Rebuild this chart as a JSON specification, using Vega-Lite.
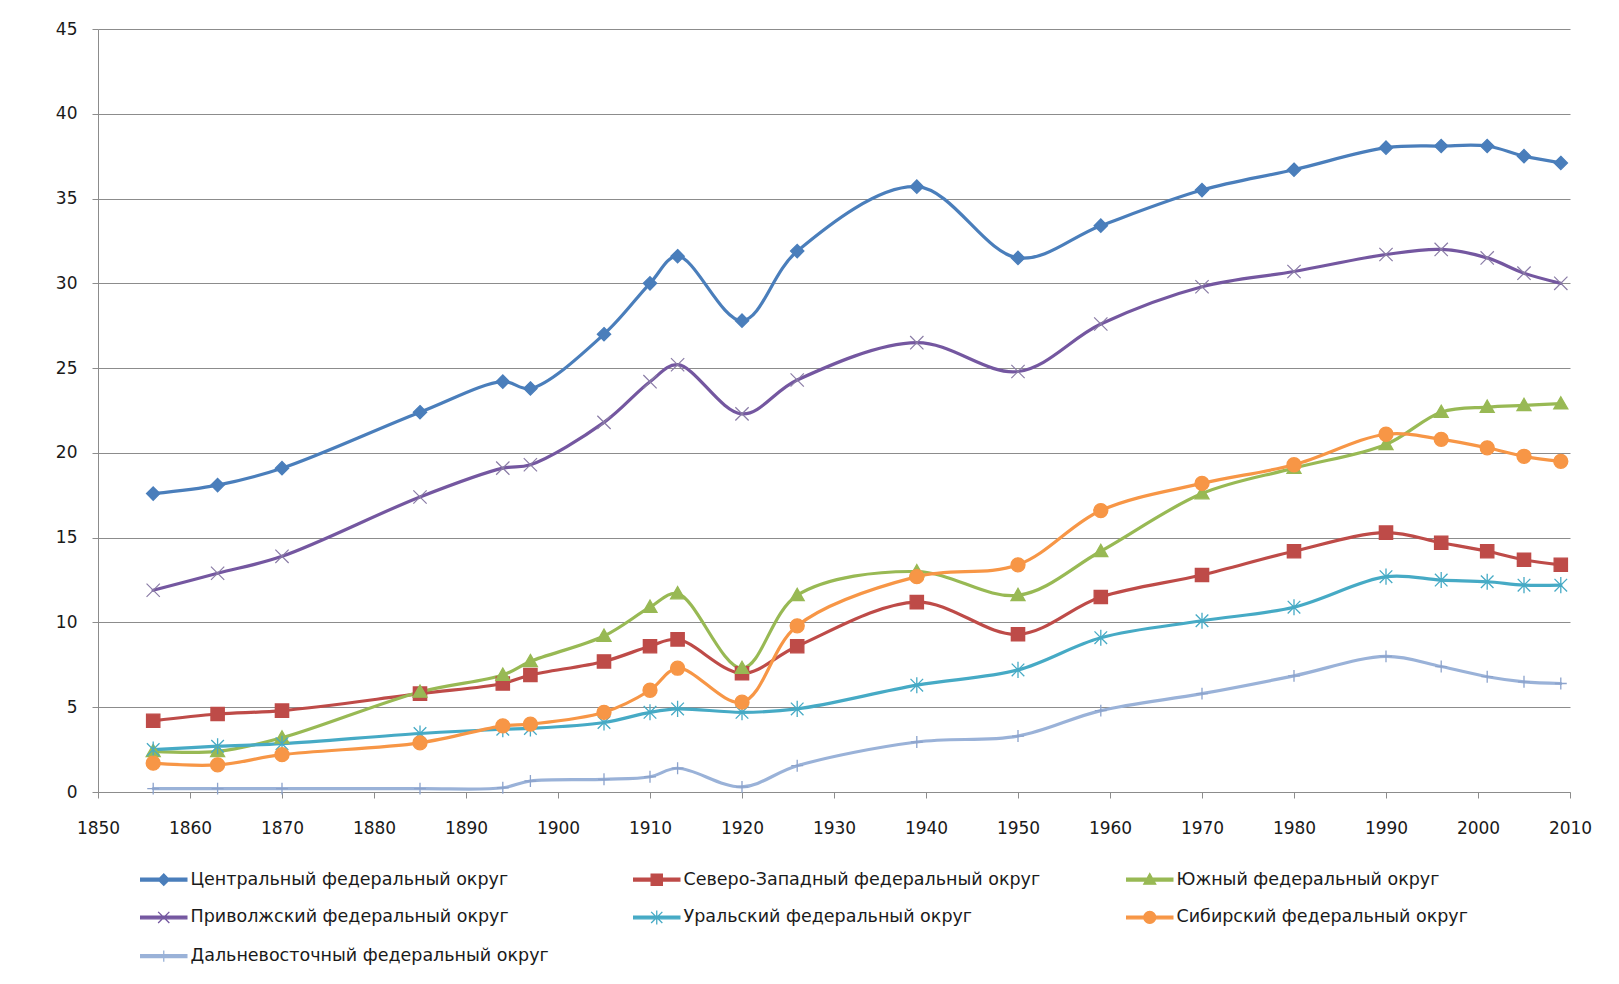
{
  "$schema": "https://vega.github.io/schema/vega-lite/v6.json",
  "width": 1472,
  "height": 763,
  "autosize": {"type": "none"},
  "padding": {"left": 98, "top": 29, "right": 49, "bottom": 192},
  "background": "white",
  "config": {
    "view": {"stroke": null},
    "font": "DejaVu Sans",
    "axis": {
      "domainColor": "#8c8c8c",
      "tickColor": "#8c8c8c",
      "gridColor": "#8c8c8c",
      "gridOpacity": 1,
      "labelFont": "DejaVu Sans",
      "labelFontSize": 17,
      "labelColor": "#1a1a1a",
      "tickSize": 6,
      "title": null
    }
  },
  "data": {
    "values": [
      {"year": 1856, "district": "Центральный федеральный округ", "value": 17.6},
      {"year": 1863, "district": "Центральный федеральный округ", "value": 18.1},
      {"year": 1870, "district": "Центральный федеральный округ", "value": 19.1},
      {"year": 1885, "district": "Центральный федеральный округ", "value": 22.4},
      {"year": 1894, "district": "Центральный федеральный округ", "value": 24.2},
      {"year": 1897, "district": "Центральный федеральный округ", "value": 23.8},
      {"year": 1905, "district": "Центральный федеральный округ", "value": 27.0},
      {"year": 1910, "district": "Центральный федеральный округ", "value": 30.0},
      {"year": 1913, "district": "Центральный федеральный округ", "value": 31.6},
      {"year": 1920, "district": "Центральный федеральный округ", "value": 27.8},
      {"year": 1926, "district": "Центральный федеральный округ", "value": 31.9},
      {"year": 1939, "district": "Центральный федеральный округ", "value": 35.7},
      {"year": 1950, "district": "Центральный федеральный округ", "value": 31.5},
      {"year": 1959, "district": "Центральный федеральный округ", "value": 33.4},
      {"year": 1970, "district": "Центральный федеральный округ", "value": 35.5},
      {"year": 1980, "district": "Центральный федеральный округ", "value": 36.7},
      {"year": 1990, "district": "Центральный федеральный округ", "value": 38.0},
      {"year": 1996, "district": "Центральный федеральный округ", "value": 38.1},
      {"year": 2001, "district": "Центральный федеральный округ", "value": 38.1},
      {"year": 2005, "district": "Центральный федеральный округ", "value": 37.5},
      {"year": 2009, "district": "Центральный федеральный округ", "value": 37.1},

      {"year": 1856, "district": "Северо-Западный федеральный округ", "value": 4.2},
      {"year": 1863, "district": "Северо-Западный федеральный округ", "value": 4.6},
      {"year": 1870, "district": "Северо-Западный федеральный округ", "value": 4.8},
      {"year": 1885, "district": "Северо-Западный федеральный округ", "value": 5.8},
      {"year": 1894, "district": "Северо-Западный федеральный округ", "value": 6.4},
      {"year": 1897, "district": "Северо-Западный федеральный округ", "value": 6.9},
      {"year": 1905, "district": "Северо-Западный федеральный округ", "value": 7.7},
      {"year": 1910, "district": "Северо-Западный федеральный округ", "value": 8.6},
      {"year": 1913, "district": "Северо-Западный федеральный округ", "value": 9.0},
      {"year": 1920, "district": "Северо-Западный федеральный округ", "value": 7.0},
      {"year": 1926, "district": "Северо-Западный федеральный округ", "value": 8.6},
      {"year": 1939, "district": "Северо-Западный федеральный округ", "value": 11.2},
      {"year": 1950, "district": "Северо-Западный федеральный округ", "value": 9.3},
      {"year": 1959, "district": "Северо-Западный федеральный округ", "value": 11.5},
      {"year": 1970, "district": "Северо-Западный федеральный округ", "value": 12.8},
      {"year": 1980, "district": "Северо-Западный федеральный округ", "value": 14.2},
      {"year": 1990, "district": "Северо-Западный федеральный округ", "value": 15.3},
      {"year": 1996, "district": "Северо-Западный федеральный округ", "value": 14.7},
      {"year": 2001, "district": "Северо-Западный федеральный округ", "value": 14.2},
      {"year": 2005, "district": "Северо-Западный федеральный округ", "value": 13.7},
      {"year": 2009, "district": "Северо-Западный федеральный округ", "value": 13.4},

      {"year": 1856, "district": "Южный федеральный округ", "value": 2.4},
      {"year": 1863, "district": "Южный федеральный округ", "value": 2.4},
      {"year": 1870, "district": "Южный федеральный округ", "value": 3.2},
      {"year": 1885, "district": "Южный федеральный округ", "value": 5.9},
      {"year": 1894, "district": "Южный федеральный округ", "value": 6.9},
      {"year": 1897, "district": "Южный федеральный округ", "value": 7.7},
      {"year": 1905, "district": "Южный федеральный округ", "value": 9.2},
      {"year": 1910, "district": "Южный федеральный округ", "value": 10.9},
      {"year": 1913, "district": "Южный федеральный округ", "value": 11.7},
      {"year": 1920, "district": "Южный федеральный округ", "value": 7.3},
      {"year": 1926, "district": "Южный федеральный округ", "value": 11.6},
      {"year": 1939, "district": "Южный федеральный округ", "value": 13.0},
      {"year": 1950, "district": "Южный федеральный округ", "value": 11.6},
      {"year": 1959, "district": "Южный федеральный округ", "value": 14.2},
      {"year": 1970, "district": "Южный федеральный округ", "value": 17.6},
      {"year": 1980, "district": "Южный федеральный округ", "value": 19.1},
      {"year": 1990, "district": "Южный федеральный округ", "value": 20.5},
      {"year": 1996, "district": "Южный федеральный округ", "value": 22.4},
      {"year": 2001, "district": "Южный федеральный округ", "value": 22.7},
      {"year": 2005, "district": "Южный федеральный округ", "value": 22.8},
      {"year": 2009, "district": "Южный федеральный округ", "value": 22.9},

      {"year": 1856, "district": "Приволжский федеральный округ", "value": 11.9},
      {"year": 1863, "district": "Приволжский федеральный округ", "value": 12.9},
      {"year": 1870, "district": "Приволжский федеральный округ", "value": 13.9},
      {"year": 1885, "district": "Приволжский федеральный округ", "value": 17.4},
      {"year": 1894, "district": "Приволжский федеральный округ", "value": 19.1},
      {"year": 1897, "district": "Приволжский федеральный округ", "value": 19.3},
      {"year": 1905, "district": "Приволжский федеральный округ", "value": 21.8},
      {"year": 1910, "district": "Приволжский федеральный округ", "value": 24.2},
      {"year": 1913, "district": "Приволжский федеральный округ", "value": 25.2},
      {"year": 1920, "district": "Приволжский федеральный округ", "value": 22.3},
      {"year": 1926, "district": "Приволжский федеральный округ", "value": 24.3},
      {"year": 1939, "district": "Приволжский федеральный округ", "value": 26.5},
      {"year": 1950, "district": "Приволжский федеральный округ", "value": 24.8},
      {"year": 1959, "district": "Приволжский федеральный округ", "value": 27.6},
      {"year": 1970, "district": "Приволжский федеральный округ", "value": 29.8},
      {"year": 1980, "district": "Приволжский федеральный округ", "value": 30.7},
      {"year": 1990, "district": "Приволжский федеральный округ", "value": 31.7},
      {"year": 1996, "district": "Приволжский федеральный округ", "value": 32.0},
      {"year": 2001, "district": "Приволжский федеральный округ", "value": 31.5},
      {"year": 2005, "district": "Приволжский федеральный округ", "value": 30.6},
      {"year": 2009, "district": "Приволжский федеральный округ", "value": 30.0},

      {"year": 1856, "district": "Уральский федеральный округ", "value": 2.5},
      {"year": 1863, "district": "Уральский федеральный округ", "value": 2.7},
      {"year": 1870, "district": "Уральский федеральный округ", "value": 2.85},
      {"year": 1885, "district": "Уральский федеральный округ", "value": 3.45},
      {"year": 1894, "district": "Уральский федеральный округ", "value": 3.7},
      {"year": 1897, "district": "Уральский федеральный округ", "value": 3.75},
      {"year": 1905, "district": "Уральский федеральный округ", "value": 4.1},
      {"year": 1910, "district": "Уральский федеральный округ", "value": 4.7},
      {"year": 1913, "district": "Уральский федеральный округ", "value": 4.9},
      {"year": 1920, "district": "Уральский федеральный округ", "value": 4.7},
      {"year": 1926, "district": "Уральский федеральный округ", "value": 4.9},
      {"year": 1939, "district": "Уральский федеральный округ", "value": 6.3},
      {"year": 1950, "district": "Уральский федеральный округ", "value": 7.2},
      {"year": 1959, "district": "Уральский федеральный округ", "value": 9.1},
      {"year": 1970, "district": "Уральский федеральный округ", "value": 10.1},
      {"year": 1980, "district": "Уральский федеральный округ", "value": 10.9},
      {"year": 1990, "district": "Уральский федеральный округ", "value": 12.7},
      {"year": 1996, "district": "Уральский федеральный округ", "value": 12.5},
      {"year": 2001, "district": "Уральский федеральный округ", "value": 12.4},
      {"year": 2005, "district": "Уральский федеральный округ", "value": 12.2},
      {"year": 2009, "district": "Уральский федеральный округ", "value": 12.2},

      {"year": 1856, "district": "Сибирский федеральный округ", "value": 1.7},
      {"year": 1863, "district": "Сибирский федеральный округ", "value": 1.6},
      {"year": 1870, "district": "Сибирский федеральный округ", "value": 2.2},
      {"year": 1885, "district": "Сибирский федеральный округ", "value": 2.9},
      {"year": 1894, "district": "Сибирский федеральный округ", "value": 3.9},
      {"year": 1897, "district": "Сибирский федеральный округ", "value": 4.0},
      {"year": 1905, "district": "Сибирский федеральный округ", "value": 4.7},
      {"year": 1910, "district": "Сибирский федеральный округ", "value": 6.0},
      {"year": 1913, "district": "Сибирский федеральный округ", "value": 7.3},
      {"year": 1920, "district": "Сибирский федеральный округ", "value": 5.3},
      {"year": 1926, "district": "Сибирский федеральный округ", "value": 9.8},
      {"year": 1939, "district": "Сибирский федеральный округ", "value": 12.7},
      {"year": 1950, "district": "Сибирский федеральный округ", "value": 13.4},
      {"year": 1959, "district": "Сибирский федеральный округ", "value": 16.6},
      {"year": 1970, "district": "Сибирский федеральный округ", "value": 18.2},
      {"year": 1980, "district": "Сибирский федеральный округ", "value": 19.3},
      {"year": 1990, "district": "Сибирский федеральный округ", "value": 21.1},
      {"year": 1996, "district": "Сибирский федеральный округ", "value": 20.8},
      {"year": 2001, "district": "Сибирский федеральный округ", "value": 20.3},
      {"year": 2005, "district": "Сибирский федеральный округ", "value": 19.8},
      {"year": 2009, "district": "Сибирский федеральный округ", "value": 19.5},

      {"year": 1856, "district": "Дальневосточный федеральный округ", "value": 0.2},
      {"year": 1863, "district": "Дальневосточный федеральный округ", "value": 0.2},
      {"year": 1870, "district": "Дальневосточный федеральный округ", "value": 0.2},
      {"year": 1885, "district": "Дальневосточный федеральный округ", "value": 0.2},
      {"year": 1894, "district": "Дальневосточный федеральный округ", "value": 0.25},
      {"year": 1897, "district": "Дальневосточный федеральный округ", "value": 0.65},
      {"year": 1905, "district": "Дальневосточный федеральный округ", "value": 0.75},
      {"year": 1910, "district": "Дальневосточный федеральный округ", "value": 0.9},
      {"year": 1913, "district": "Дальневосточный федеральный округ", "value": 1.4},
      {"year": 1920, "district": "Дальневосточный федеральный округ", "value": 0.3},
      {"year": 1926, "district": "Дальневосточный федеральный округ", "value": 1.55},
      {"year": 1939, "district": "Дальневосточный федеральный округ", "value": 2.95},
      {"year": 1950, "district": "Дальневосточный федеральный округ", "value": 3.3},
      {"year": 1959, "district": "Дальневосточный федеральный округ", "value": 4.8},
      {"year": 1970, "district": "Дальневосточный федеральный округ", "value": 5.8},
      {"year": 1980, "district": "Дальневосточный федеральный округ", "value": 6.85},
      {"year": 1990, "district": "Дальневосточный федеральный округ", "value": 8.0},
      {"year": 1996, "district": "Дальневосточный федеральный округ", "value": 7.4},
      {"year": 2001, "district": "Дальневосточный федеральный округ", "value": 6.8},
      {"year": 2005, "district": "Дальневосточный федеральный округ", "value": 6.5},
      {"year": 2009, "district": "Дальневосточный федеральный округ", "value": 6.4}
    ]
  },
  "encoding": {
    "x": {
      "field": "year",
      "type": "quantitative",
      "scale": {"domain": [1850, 2010], "nice": false, "zero": false},
      "axis": {
        "values": [1850, 1860, 1870, 1880, 1890, 1900, 1910, 1920, 1930, 1940, 1950, 1960, 1970, 1980, 1990, 2000, 2010],
        "format": "d",
        "grid": false,
        "labelPadding": 22,
        "labelFlush": false,
        "labelOverlap": false
      }
    },
    "y": {
      "field": "value",
      "type": "quantitative",
      "scale": {"domain": [0, 45], "nice": false},
      "axis": {
        "values": [0, 5, 10, 15, 20, 25, 30, 35, 40, 45],
        "grid": true,
        "labelPadding": 15,
        "labelFlush": false
      }
    }
  },
  "layer": [
    {
      "mark": {"type": "line", "interpolate": "catmull-rom", "strokeWidth": 3.2, "strokeJoin": "round", "strokeCap": "round"},
      "encoding": {
        "color": {
          "field": "district",
          "type": "nominal",
          "sort": null,
          "scale": {
            "domain": ["Центральный федеральный округ", "Северо-Западный федеральный округ", "Южный федеральный округ", "Приволжский федеральный округ", "Уральский федеральный округ", "Сибирский федеральный округ", "Дальневосточный федеральный округ"],
            "range": ["#4A7EBB", "#BE4B48", "#98B954", "#7457A0", "#46AAC5", "#F79646", "#9AB2D8"]
          },
          "legend": {
            "orient": "none",
            "legendX": 57,
            "legendY": 841,
            "columns": 3,
            "direction": "horizontal",
            "title": null,
            "padding": 0,
            "gridAlign": "all",
            "columnPadding": 82,
            "rowPadding": 18.7,
            "symbolSize": 196,
            "symbolType": "circle",
            "labelFont": "DejaVu Sans",
            "labelFontSize": 17.5,
            "labelColor": "#1a1a1a",
            "labelOffset": 18,
            "labelLimit": 600,
            "encode": {
              "symbols": {
                "update": {
                  "shape": {"signal": "['M-3.3,-0.2H3.3V0.2H-3.3Z M0,-0.8L0.8,0L0,0.8L-0.8,0Z','M-3.3,-0.2H3.3V0.2H-3.3Z M-0.8,-0.8H0.8V0.8H-0.8Z','M-3.3,-0.2H3.3V0.2H-3.3Z M0,-0.85L0.85,0.65L-0.85,0.65Z','M-3.3,-0.2H3.3V0.2H-3.3Z M-0.8,-0.8L0.8,0.8M-0.8,0.8L0.8,-0.8','M-3.3,-0.2H3.3V0.2H-3.3Z M-0.8,-0.8L0.8,0.8M-0.8,0.8L0.8,-0.8M0,-1V1','M-3.3,-0.2H3.3V0.2H-3.3Z M0.85,0A0.85,0.85,0,1,1,-0.85,0A0.85,0.85,0,1,1,0.85,0Z','M-3.3,-0.2H3.3V0.2H-3.3Z M-0.8,0H0.8M0,-0.8V0.8'][indexof(['Центральный федеральный округ','Северо-Западный федеральный округ','Южный федеральный округ','Приволжский федеральный округ','Уральский федеральный округ','Сибирский федеральный округ','Дальневосточный федеральный округ'], datum.value)]"},
                  "fill": {"scale": "color", "field": "value"},
                  "stroke": {"scale": "color", "field": "value"},
                  "strokeWidth": {"value": 1.3},
                  "opacity": {"value": 1},
                  "fillOpacity": {"value": 1},
                  "strokeOpacity": {"value": 1}
                }
              }
            }
          }
        }
      }
    },
    {
      "transform": [{"filter": {"field": "district", "equal": "Центральный федеральный округ"}}],
      "mark": {"type": "point", "filled": true, "size": 196, "strokeWidth": 1.3, "opacity": 1, "color": "#4A7EBB", "stroke": "#4A7EBB", "shape": "M0,-0.95L0.95,0L0,0.95L-0.95,0Z"}
    },
    {
      "transform": [{"filter": {"field": "district", "equal": "Северо-Западный федеральный округ"}}],
      "mark": {"type": "point", "filled": true, "size": 196, "strokeWidth": 1.3, "opacity": 1, "color": "#BE4B48", "stroke": "#BE4B48", "shape": "M-0.95,-0.95H0.95V0.95H-0.95Z"}
    },
    {
      "transform": [{"filter": {"field": "district", "equal": "Южный федеральный округ"}}],
      "mark": {"type": "point", "filled": true, "size": 196, "strokeWidth": 1.3, "opacity": 1, "color": "#98B954", "stroke": "#98B954", "shape": "M0,-1L1,0.75L-1,0.75Z"}
    },
    {
      "transform": [{"filter": {"field": "district", "equal": "Приволжский федеральный округ"}}],
      "mark": {"type": "point", "filled": true, "size": 196, "strokeWidth": 1.2, "opacity": 1, "color": "#8a7ca6", "stroke": "#8a7ca6", "shape": "M-0.95,-0.95L0.95,0.95M-0.95,0.95L0.95,-0.95"}
    },
    {
      "transform": [{"filter": {"field": "district", "equal": "Уральский федеральный округ"}}],
      "mark": {"type": "point", "filled": true, "size": 196, "strokeWidth": 1.3, "opacity": 1, "color": "#46AAC5", "stroke": "#46AAC5", "shape": "M-0.9,-0.9L0.9,0.9M-0.9,0.9L0.9,-0.9M0,-1.15V1.15"}
    },
    {
      "transform": [{"filter": {"field": "district", "equal": "Сибирский федеральный округ"}}],
      "mark": {"type": "point", "filled": true, "size": 196, "strokeWidth": 1.3, "opacity": 1, "color": "#F79646", "stroke": "#F79646", "shape": "M1,0A1,1,0,1,1,-1,0A1,1,0,1,1,1,0Z"}
    },
    {
      "transform": [{"filter": {"field": "district", "equal": "Дальневосточный федеральный округ"}}],
      "mark": {"type": "point", "filled": true, "size": 196, "strokeWidth": 1.3, "opacity": 1, "color": "#8CA3CC", "stroke": "#8CA3CC", "shape": "M-0.85,0H0.85M0,-0.85V0.85"}
    }
  ]
}
